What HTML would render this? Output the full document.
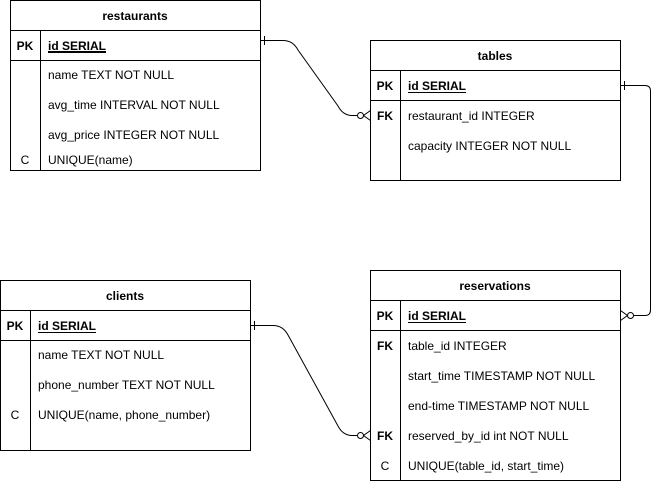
<!DOCTYPE html>
<html><head><meta charset="utf-8"><style>
html,body{margin:0;padding:0;background:#fff;}
svg text{font-family:"Liberation Sans",Arial,sans-serif;font-size:12px;fill:#000;}
.b{font-weight:bold;}
</style></head><body>
<svg width="661" height="482" viewBox="0 0 661 482" xmlns="http://www.w3.org/2000/svg">
<g fill="none" stroke="#000" stroke-width="1">
<!-- restaurants -->
<rect x="10.5" y="0.5" width="250" height="170"/>
<line x1="10.5" y1="30.5" x2="260.5" y2="30.5"/>
<line x1="10.5" y1="60.5" x2="260.5" y2="60.5"/>
<line x1="40.5" y1="30.5" x2="40.5" y2="170.5"/>
<!-- tables -->
<rect x="370.5" y="40.5" width="250" height="140"/>
<line x1="370.5" y1="70.5" x2="620.5" y2="70.5"/>
<line x1="370.5" y1="100.5" x2="620.5" y2="100.5"/>
<line x1="400.5" y1="70.5" x2="400.5" y2="180.5"/>
<!-- clients -->
<rect x="0.5" y="280.5" width="250" height="170"/>
<line x1="0.5" y1="310.5" x2="250.5" y2="310.5"/>
<line x1="0.5" y1="340.5" x2="250.5" y2="340.5"/>
<line x1="30.5" y1="310.5" x2="30.5" y2="450.5"/>
<!-- reservations -->
<rect x="370.5" y="270.5" width="250" height="210"/>
<line x1="370.5" y1="300.5" x2="620.5" y2="300.5"/>
<line x1="370.5" y1="330.5" x2="620.5" y2="330.5"/>
<line x1="400.5" y1="300.5" x2="400.5" y2="480.5"/>
<!-- connectors -->
<path d="M260.5 40.5 H283 Q293 40.5 298 50 L338 106 Q343 115.5 352 115.5 H357"/>
<line x1="264.5" y1="36" x2="264.5" y2="45"/>
<circle cx="360.5" cy="115.5" r="3"/>
<path d="M370.5 110.5 L363.5 115.5 L370.5 120.5"/>
<path d="M620.5 85.5 H645 Q650.5 85.5 650.5 91 V310 Q650.5 315.5 645 315.5 H634"/>
<line x1="624.5" y1="81" x2="624.5" y2="90"/>
<circle cx="630.5" cy="315.5" r="3"/>
<path d="M620.5 310.5 L627.5 315.5 L620.5 320.5"/>
<path d="M250.5 325.5 H273 Q283 325.5 288 335 L338 426 Q343 435.5 352 435.5 H357"/>
<line x1="254.5" y1="321" x2="254.5" y2="330"/>
<circle cx="360.5" cy="435.5" r="3"/>
<path d="M370.5 430.5 L363.5 435.5 L370.5 440.5"/>
</g>
<!-- restaurants text -->
<text x="135" y="20" text-anchor="middle" class="b">restaurants</text>
<text x="25" y="50" text-anchor="middle" class="b">PK</text>
<text x="48" y="50" class="b" text-decoration="underline">id SERIAL</text>
<line x1="48" y1="52.5" x2="106" y2="52.5" stroke="#000"/>
<text x="48" y="79">name TEXT NOT NULL</text>
<text x="48" y="109">avg_time INTERVAL NOT NULL</text>
<text x="48" y="139">avg_price INTEGER NOT NULL</text>
<text x="25" y="164" text-anchor="middle">C</text>
<text x="48" y="164">UNIQUE(name)</text>
<!-- tables text -->
<text x="495" y="60" text-anchor="middle" class="b">tables</text>
<text x="385" y="90" text-anchor="middle" class="b">PK</text>
<text x="408" y="90" class="b">id SERIAL</text>
<line x1="408" y1="92.5" x2="466" y2="92.5" stroke="#000"/>
<text x="385" y="120" text-anchor="middle" class="b">FK</text>
<text x="408" y="120">restaurant_id INTEGER</text>
<text x="408" y="150">capacity INTEGER NOT NULL</text>
<!-- clients text -->
<text x="125" y="300" text-anchor="middle" class="b">clients</text>
<text x="15" y="330" text-anchor="middle" class="b">PK</text>
<text x="38" y="330" class="b">id SERIAL</text>
<line x1="38" y1="332.5" x2="96" y2="332.5" stroke="#000"/>
<text x="38" y="359">name TEXT NOT NULL</text>
<text x="38" y="389">phone_number TEXT NOT NULL</text>
<text x="15" y="419" text-anchor="middle">C</text>
<text x="38" y="419">UNIQUE(name, phone_number)</text>
<!-- reservations text -->
<text x="495" y="290" text-anchor="middle" class="b">reservations</text>
<text x="385" y="320" text-anchor="middle" class="b">PK</text>
<text x="408" y="320" class="b">id SERIAL</text>
<line x1="408" y1="322.5" x2="466" y2="322.5" stroke="#000"/>
<text x="385" y="350" text-anchor="middle" class="b">FK</text>
<text x="408" y="350">table_id INTEGER</text>
<text x="408" y="380">start_time TIMESTAMP NOT NULL</text>
<text x="408" y="410">end-time TIMESTAMP NOT NULL</text>
<text x="385" y="440" text-anchor="middle" class="b">FK</text>
<text x="408" y="440">reserved_by_id int NOT NULL</text>
<text x="385" y="470" text-anchor="middle">C</text>
<text x="408" y="470">UNIQUE(table_id, start_time)</text>
</svg>
</body></html>
